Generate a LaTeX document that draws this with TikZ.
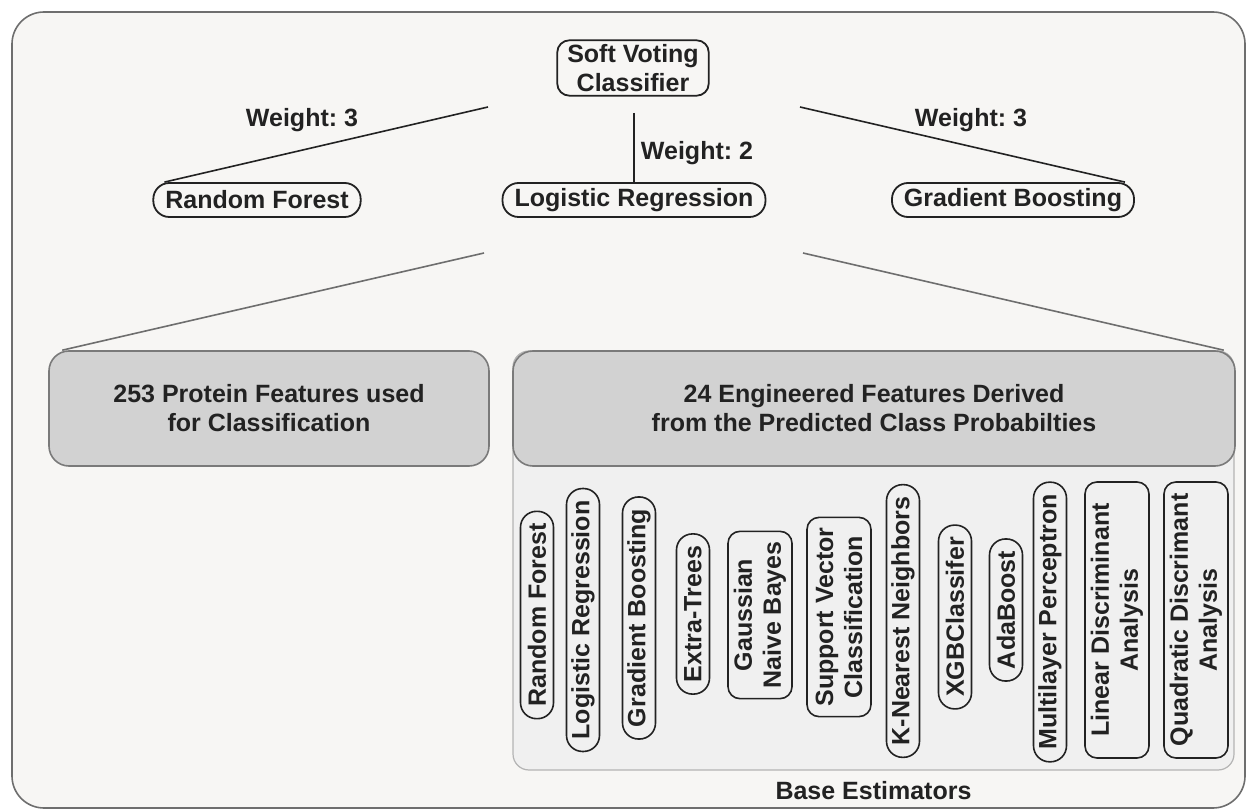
\documentclass[tikz,border=0pt]{standalone}
\usepackage{fontspec}
\setmainfont{Liberation Sans}
\usepackage{xcolor}
\usepackage{tikz}
\usetikzlibrary{positioning}
\frenchspacing

\definecolor{ink}{HTML}{222222}
\definecolor{framebg}{HTML}{F7F6F4}
\definecolor{framedraw}{HTML}{6E6E6E}
\definecolor{featfill}{HTML}{D2D2D2}
\definecolor{featdraw}{HTML}{7A7A7A}
\definecolor{poolfill}{HTML}{F0F0F0}
\definecolor{pooldraw}{HTML}{B4B4B4}

\begin{document}
\begin{tikzpicture}[x=0.5pt, y=-0.5pt,
    every node/.style={font=\fontsize{12.5}{14.5}\selectfont\bfseries, text=ink},
    model/.style={draw=ink, line width=0.9pt, rounded corners=8pt, inner xsep=6pt, inner ysep=2pt, minimum height=17pt},
    voter/.style={draw=ink, line width=0.9pt, rounded corners=6pt, inner xsep=5pt, inner ysep=2pt, align=center},
    feat/.style={draw=featdraw, fill=featfill, line width=0.8pt, rounded corners=10pt, align=center, minimum height=57.5pt},
    est/.style={draw=ink, line width=0.8pt, rounded corners=8pt, rotate=90, inner xsep=6pt, inner ysep=2pt, minimum height=16.5pt},
    est2/.style={draw=ink, line width=0.8pt, rounded corners=6pt, rotate=90, inner xsep=5pt, inner ysep=2pt, minimum height=32pt, align=center},
    link/.style={draw=ink, line width=0.8pt},
    flink/.style={draw=framedraw, line width=0.8pt}]
\useasboundingbox (0,0) rectangle (1248,812);
\draw[draw=framedraw, fill=framebg, line width=0.8pt, rounded corners=16pt] (12,12) rectangle (1245,808);

\node[voter] (svc) at (633,68) {Soft Voting\\Classifier};
\node[model] (rf) at (257,200) {Random Forest};
\node[model] (lr) at (634,200) {Logistic Regression};
\node[model] (gb) at (1013,200) {Gradient Boosting};

\coordinate (svL) at (488,107);
\coordinate (svB) at (634,113);
\coordinate (svR) at (800,107);
\draw[link] (svL) -- ([xshift=6pt]rf.north west);
\draw[link] (svB) -- (lr.north);
\draw[link] (svR) -- ([xshift=-5pt]gb.north east);
\node (wrf) at (302,120) {Weight: 3};
\node (wlr) at (697,153) {Weight: 2};
\node (wgb) at (971,120) {Weight: 3};

\node[draw=pooldraw, fill=poolfill, line width=0.6pt, rounded corners=8pt,
      minimum width=360.5pt, minimum height=209.5pt] (pool) at (873.5,560.5) {};
\node[below=2pt of pool] (poolname) {Base Estimators};

\node[feat, minimum width=220pt] (prot) at (269,408.5) {253 Protein Features used\\for Classification};
\node[feat, minimum width=361pt] (eng) at (874,408.5) {24 Engineered Features Derived\\from the Predicted Class Probabilties};

\coordinate (lrL) at (484,253);
\coordinate (lrR) at (803,253);
\draw[flink] (lrL) -- ([xshift=7pt]prot.north west);
\draw[flink] (lrR) -- ([xshift=-6pt]eng.north east);

\node[est] (e1) at (537,615) {Random Forest};
\node[est] (e2) at (583,620) {Logistic Regression};
\node[est] (e3) at (639,618) {Gradient Boosting};
\node[est] (e4) at (693,614) {Extra-Trees};
\node[est2] (e5) at (760,615) {Gaussian\\Naive Bayes};
\node[est2] (e6) at (839,617) {Support Vector\\Classification};
\node[est] (e7) at (903,621) {K-Nearest Neighbors};
\node[est] (e8) at (955,617) {XGBClassifer};
\node[est] (e9) at (1006,610) {AdaBoost};
\node[est] (e10) at (1050,622) {Multilayer Perceptron};
\node[est2, minimum width=138pt] (e11) at (1117,620) {Linear Discriminant\\Analysis};
\node[est2, minimum width=138pt] (e12) at (1196,620) {Quadratic Discrimant\\Analysis};
\end{tikzpicture}
\end{document}
